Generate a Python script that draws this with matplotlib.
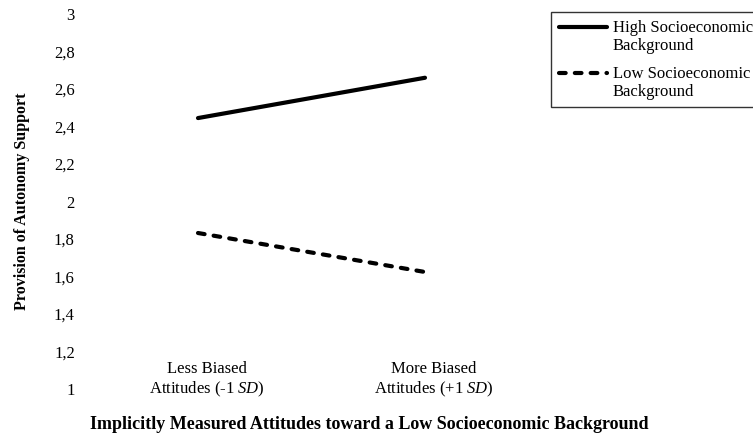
import matplotlib
matplotlib.use("Agg")
import matplotlib.pyplot as plt
from matplotlib.legend_handler import HandlerLine2D

plt.rcParams['font.family'] = ['Liberation Serif', 'DejaVu Serif']
plt.rcParams['mathtext.fontset'] = 'custom'
plt.rcParams['mathtext.it'] = 'Liberation Serif:italic'
plt.rcParams['mathtext.rm'] = 'Liberation Serif'

# data
categories = ["Less Biased\nAttitudes (-1 $\\it{SD}$)", "More Biased\nAttitudes (+1 $\\it{SD}$)"]
high_ses = [2.445, 2.66]
low_ses = [1.832, 1.624]
series_names = ["High Socioeconomic\nBackground", "Low Socioeconomic\nBackground"]
yticks = [1, 1.2, 1.4, 1.6, 1.8, 2, 2.2, 2.4, 2.6, 2.8, 3]
ytick_labels = ["1", "1,2", "1,4", "1,6", "1,8", "2", "2,2", "2,4", "2,6", "2,8", "3"]


class TopLineHandler(HandlerLine2D):
    # put the legend sample level with the first text line
    def create_artists(self, legend, orig_handle, xdescent, ydescent, width, height,
                       fontsize, trans):
        arts = super().create_artists(legend, orig_handle, xdescent, ydescent, width,
                                      height, fontsize, trans)
        for a in arts:
            a.set_ydata([y + 0.62 * fontsize for y in a.get_ydata()])
        return arts


fig = plt.figure(figsize=(7.53, 4.45), dpi=100)
ax = fig.add_axes([84.5 / 753, 56 / 445, 454 / 753, 375 / 445])

x = list(range(len(categories)))
ax.plot(x, high_ses, color="black", lw=3.0, solid_capstyle="round", label=series_names[0])
ax.plot(x, low_ses, color="black", lw=3.0, dashes=(1.6, 2.2), dash_capstyle="round",
        label=series_names[1])

ax.set_xlim(-0.5, 1.5)
ax.set_ylim(1, 3)
ax.set_yticks(yticks)
ax.set_yticklabels(ytick_labels, fontsize=12)
ax.tick_params(axis="y", length=0, pad=7)
ax.set_xticks([])
for s in ax.spines.values():
    s.set_visible(False)

# category labels sit level with the bottom tick, like the original
for xi, lab in zip(x, categories):
    ax.text(xi + 0.04, 1.048, lab, ha="center", va="center", fontsize=12, linespacing=1.15)

ax.set_ylabel("Provision of Autonomy Support", fontsize=11.5, fontweight="bold", labelpad=17)
fig.text(0.49, 0.045, "Implicitly Measured Attitudes toward a Low Socioeconomic Background",
         ha="center", va="center", fontsize=13, fontweight="bold")

leg = fig.legend(loc="upper left", bbox_to_anchor=(551 / 753, 1 - 12 / 445),
                 fontsize=12, frameon=True, fancybox=False, edgecolor="black",
                 handlelength=2.9, handletextpad=0.35, borderpad=0.45, labelspacing=0.7,
                 borderaxespad=0, handler_map={plt.Line2D: TopLineHandler()})
leg.get_frame().set_linewidth(1.0)

fig.savefig("out.png", dpi=100)
